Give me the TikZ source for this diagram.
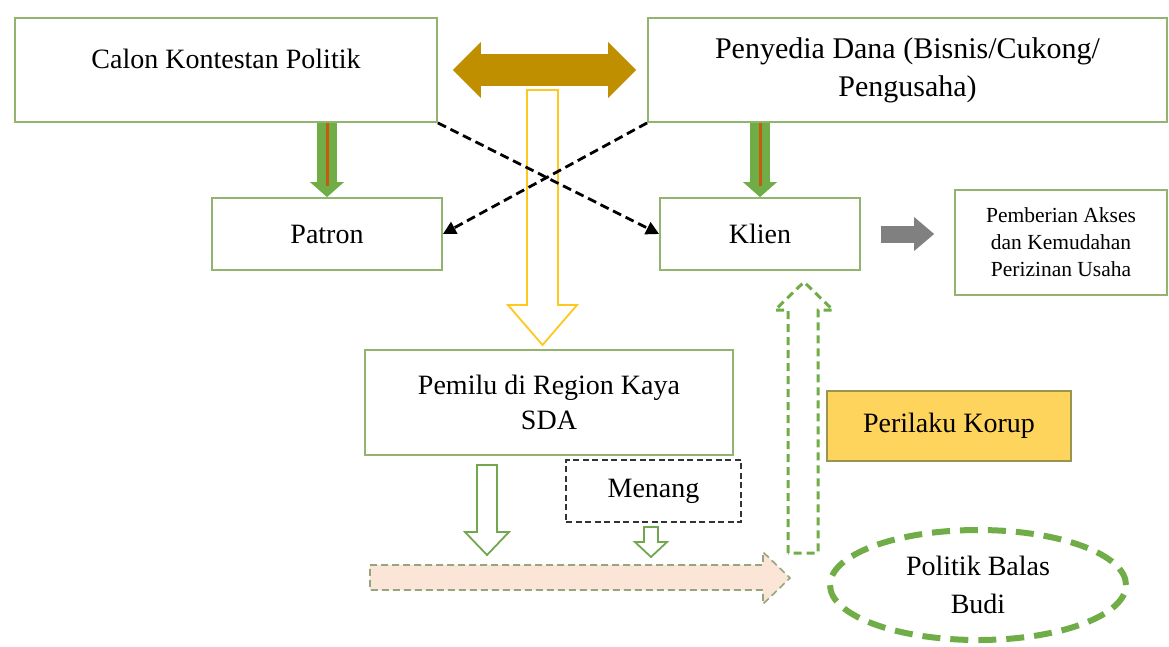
\documentclass[tikz,border=0pt]{standalone}
\usepackage{fontspec}
\setmainfont{Liberation Serif}
\usetikzlibrary{arrows.meta,positioning,shapes.geometric}
\definecolor{boxline}{RGB}{146,180,112}
\definecolor{leafgreen}{RGB}{112,173,71}
\definecolor{rustred}{RGB}{197,90,17}
\definecolor{darkgold}{RGB}{191,143,0}
\definecolor{sunyellow}{RGB}{255,200,30}
\definecolor{korupgold}{RGB}{255,212,92}
\definecolor{korupline}{RGB}{150,150,80}
\definecolor{peach}{RGB}{251,229,214}
\definecolor{peachline}{RGB}{150,165,125}
\definecolor{arrgray}{RGB}{128,128,128}
\tikzset{
  basebox/.style={rectangle,draw=boxline,line width=1.8pt,inner sep=0pt,align=center,font=\fontsize{28}{38}\selectfont},
  menangbox/.style={basebox,draw=black!80,line width=2pt,dash pattern=on 6pt off 3.5pt,minimum width=175pt,minimum height=62pt},
  korupbox/.style={basebox,fill=korupgold,draw=korupline,line width=1.5pt,minimum width=244pt,minimum height=70pt},
  budinode/.style={ellipse,draw=leafgreen,line width=6pt,dash pattern=on 18pt off 10pt,inner sep=0pt,minimum width=296pt,minimum height=110pt,align=center,font=\fontsize{28}{38}\selectfont},
  goldarr/.style={{Triangle[width=56pt,length=28pt,line width=0pt]}-{Triangle[width=56pt,length=28pt,line width=0pt]},draw=darkgold,line width=32pt},
  greenarr/.style={-{Triangle[width=34pt,length=15pt,line width=0pt]},draw=leafgreen,line width=20pt},
  redline/.style={draw=rustred,line width=3pt},
  grayarr/.style={-{Triangle[width=34pt,length=20pt,line width=0pt]},draw=arrgray,line width=17pt},
  dasharr/.style={-{Triangle[width=13pt,length=13pt]},draw=black,line width=2.8pt,dash pattern=on 9pt off 5pt},
  hollowyellow/.style={draw=sunyellow,fill=white,line width=1.8pt},
  hollowgreen/.style={draw=leafgreen!85!gray,fill=white,line width=1.8pt},
  peacharr/.style={draw=peachline,fill=peach,line width=1.6pt,dash pattern=on 7pt off 4pt},
  uparr/.style={draw=leafgreen,line width=3pt,dash pattern=on 8pt off 5pt}
}
\begin{document}
\begin{tikzpicture}[x=1pt,y=-1pt]
\useasboundingbox[fill=white] (0,0) rectangle (1169,646);

% boxes
\node[basebox,minimum width=422pt,minimum height=104pt,text height=20pt,text depth=24pt] (calon) at (226,70) {Calon Kontestan Politik};
\node[basebox,minimum width=519pt,minimum height=104pt,font=\fontsize{30}{38}\selectfont] (dana) at (907.5,70) {Penyedia Dana (Bisnis/Cukong/\\Pengusaha)};
\node[basebox,minimum width=230pt,minimum height=72pt] (patron) at (327,234) {Patron};
\node[basebox,minimum width=200pt,minimum height=72pt] (klien) at (760,234) {Klien};
\node[basebox,minimum width=212pt,minimum height=105pt,font=\fontsize{21.5}{27}\selectfont] (akses) at (1061,242.5) {Pemberian Akses\\dan Kemudahan\\Perizinan Usaha};
\node[basebox,minimum width=368pt,minimum height=105pt,font=\fontsize{28}{35}\selectfont] (pemilu) at (549,402.5) {Pemilu di Region Kaya\\SDA};
\node[menangbox] (menang) at (653.5,491) {Menang};
\node[korupbox] (korup) at (949,426) {Perilaku Korup};
\node[budinode] (budi) at (978,585) {Politik Balas\\Budi};

% yellow arrow down to the election
\draw[hollowyellow] (527,90) -- (558,90) -- (558,305) -- (577,305) -- (542.5,345) -- (508,305) -- (527,305) -- cycle;
\draw[goldarr,shorten <=15pt,shorten >=11pt] (calon.east) -- (dana.west);

% patron / klien
\draw[greenarr] (patron.north |- calon.south) -- (patron.north);
\draw[redline,shorten >=11pt] (patron.north |- calon.south) -- (patron.north);
\draw[greenarr] (klien.north |- dana.south) -- (klien.north);
\draw[redline,shorten >=11pt] (klien.north |- dana.south) -- (klien.north);
\draw[dasharr] (calon.south east) -- (klien.west);
\draw[dasharr] (dana.south west) -- (patron.east);
\draw[grayarr,shorten <=20pt,shorten >=20pt] (klien.east) -- (klien.east -| akses.west);

% below the election
\draw[hollowgreen] (477,465) -- (497,465) -- (497,532) -- (509,532) -- (487,555) -- (465,532) -- (477,532) -- cycle;
\draw[hollowgreen] (644,527) -- (658,527) -- (658,542) -- (667,542) -- (651,557) -- (635,542) -- (644,542) -- cycle;
\draw[peacharr] (370,565) -- (763,565) -- (763,552) -- (790,578) -- (763,604) -- (763,590) -- (370,590) -- cycle;
\draw[uparr] (788,553) -- (788,310) -- (775,310) -- (804,282) -- (833,310) -- (818,310) -- (818,553) -- cycle;
\end{tikzpicture}
\end{document}
